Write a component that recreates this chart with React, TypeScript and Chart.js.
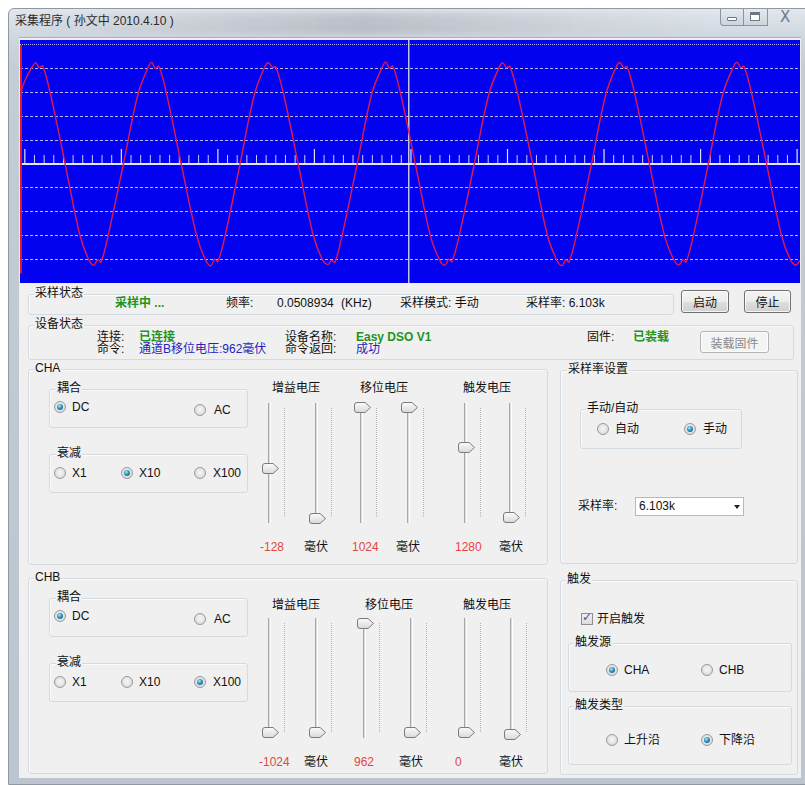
import React, { useEffect, useRef } from "react";
import { Chart, registerables } from "chart.js";

Chart.register(...registerables);

// ---- Oscilloscope trace (x: small divisions, y: vertical divisions) ----
const waveX = [
  -0.5, 0.0,
  0.79, 1.14, 1.5, 1.85, 2.65, 4.17, 5.68, 6.6, 7.15, 7.55, 7.9, 8.66, 10.21, 11.72,
  12.8, 13.16, 13.5, 13.9, 14.67, 16.2, 17.75, 18.7, 19.27, 19.65, 20.0, 20.78, 22.3, 23.8,
  24.9, 25.28, 25.65, 26.0, 26.8, 28.33, 29.85, 30.8, 31.4, 31.78, 32.13, 32.9, 34.43, 35.95,
  37.05, 37.41, 37.78, 38.13, 38.93, 40.46, 41.98, 42.95, 43.52, 43.9, 44.25, 45.03, 46.56, 48.07,
  49.17, 49.53, 49.9, 50.25, 51.05, 52.6, 54.1, 55.07, 55.65, 56.03, 56.38, 57.16, 58.7, 60.2,
  61.3, 61.66, 62.03, 62.38, 63.18, 64.7, 66.23, 67.2, 67.77, 68.15, 68.5, 69.28, 70.8, 72.3,
  73.42, 73.78, 74.15, 74.5, 75.3, 76.84, 78.35, 79.3, 79.9, 80.3,
];
const waveY = [
  2.9, 3.5,
  4.1, 4.25, 4.05, 4.12, 2.95, 0.02, -2.95, -4.0, -4.25, -4.02, -4.12, -2.95, 0.0, 2.93,
  4.08, 4.27, 4.02, 4.1, 2.97, 0.0, -2.93, -4.03, -4.28, -4.0, -4.1, -2.96, 0.02, 2.95,
  4.12, 4.25, 4.06, 4.08, 2.94, -0.02, -2.95, -4.0, -4.22, -4.05, -4.13, -2.94, 0.0, 2.96,
  4.1, 4.28, 4.03, 4.11, 2.95, 0.0, -2.97, -4.02, -4.26, -4.0, -4.1, -2.95, 0.01, 2.94,
  4.09, 4.24, 4.05, 4.1, 2.96, 0.01, -2.94, -4.01, -4.27, -4.03, -4.11, -2.95, 0.0, 2.95,
  4.11, 4.26, 4.04, 4.09, 2.95, 0.0, -2.96, -4.0, -4.24, -4.02, -4.12, -2.96, -0.01, 2.94,
  4.1, 4.27, 4.05, 4.1, 2.95, 0.0, -2.95, -4.02, -4.25, -4.05,
];

// ---- Scale decoration ----
const minorTickX = [
  1, 2, 3, 4, 5, 6, 7, 8, 9, 11, 12, 13, 14, 15, 16, 17, 18, 19,
  21, 22, 23, 24, 25, 26, 27, 28, 29, 31, 32, 33, 34, 35, 36, 37, 38, 39,
  41, 42, 43, 44, 45, 46, 47, 48, 49, 51, 52, 53, 54, 55, 56, 57, 58, 59,
  61, 62, 63, 64, 65, 66, 67, 68, 69, 71, 72, 73, 74, 75, 76, 77, 78, 79,
];
const majorTickX = [0, 10, 20, 30, 40, 50, 60, 70, 80];
const gridY = [-4, -3, -2, -1, 0, 1, 2, 3, 4, 5];
const centerLineX = [39.8];
const triggerEdgeY = [5.0, -4.6];

const FONT = '"Liberation Sans", "Noto Sans CJK SC", Arial, sans-serif';
const GREEN = "#1f941f";
const BLUE = "#2424b8";
const RED = "#e4463e";

function Scope() {
  const ref = useRef<HTMLCanvasElement | null>(null);
  useEffect(() => {
    const canvas = ref.current;
    if (!canvas) return;
    const chart = new Chart(canvas, {
      type: "scatter",
      data: {
        datasets: [
          {
            data: waveX.map((x, i) => ({ x, y: waveY[i] })),
            showLine: true,
            borderColor: "#e2184e",
            borderWidth: 1.4,
            pointRadius: 0,
            tension: 0.35,
            order: 0,
          } as any,
          {
            data: triggerEdgeY.map((y) => ({ x: -0.4, y })),
            showLine: true,
            borderColor: "#e8142a",
            borderWidth: 2,
            pointRadius: 0,
            order: 1,
          } as any,
          {
            data: minorTickX.map((x) => ({ x, y: 0.19 })),
            showLine: false,
            pointStyle: "line",
            rotation: 90,
            pointRadius: 4.5,
            borderColor: "rgba(225,228,255,0.9)",
            borderWidth: 1,
            order: 2,
          } as any,
          {
            data: majorTickX.map((x) => ({ x, y: 0.315 })),
            showLine: false,
            pointStyle: "line",
            rotation: 90,
            pointRadius: 7.5,
            borderColor: "rgba(235,238,255,0.95)",
            borderWidth: 1.2,
            order: 3,
          } as any,
        ],
      },
      options: {
        animation: false,
        responsive: false,
        events: [],
        layout: { padding: 0, autoPadding: false },
        plugins: { legend: { display: false }, tooltip: { enabled: false } },
        scales: {
          x: {
            type: "linear",
            min: -0.5,
            max: 80.3,
            afterBuildTicks: (s: any) => {
              s.ticks = centerLineX.map((v) => ({ value: v }));
            },
            ticks: { display: false },
            grid: { drawTicks: false, color: "rgba(215,215,225,0.9)", lineWidth: 1.5 },
            border: { display: false },
          },
          y: {
            type: "linear",
            min: -5,
            max: 5.21,
            afterBuildTicks: (s: any) => {
              s.ticks = gridY.map((v) => ({ value: v }));
            },
            ticks: { display: false },
            grid: {
              drawTicks: false,
              color: (c: any) =>
                c.tick && c.tick.value === 0 ? "rgba(240,242,255,0.95)" : "rgba(215,220,255,0.85)",
              lineWidth: (c: any) => (c.tick && c.tick.value === 0 ? 2 : 1),
            },
            border: {
              display: false,
              dash: (c: any) =>
                c.tick && c.tick.value === 0 ? [] : c.tick && c.tick.value === 5 ? [1, 1] : [3, 2],
            },
          },
        },
      } as any,
    });
    return () => chart.destroy();
  }, []);
  return (
    <canvas
      ref={ref}
      width={780}
      height={243}
      style={{ position: "absolute", left: 20, top: 40, width: 780, height: 243, background: "#0202f0" }}
    />
  );
}

const T = ({ x, y, c = "#111", b = false, s = 12, children }: any) => (
  <div
    style={{
      position: "absolute",
      left: x,
      top: y - 8,
      height: 16,
      lineHeight: "16px",
      fontSize: s,
      color: c,
      fontWeight: b ? 700 : 400,
      whiteSpace: "nowrap",
    }}
  >
    {children}
  </div>
);

const Group = ({ x, y, w, h, label, lx }: any) => (
  <>
    <div
      style={{
        position: "absolute",
        left: x,
        top: y,
        width: w,
        height: h,
        boxSizing: "border-box",
        border: "1px solid #d3dbe2",
        borderRadius: 3,
        boxShadow: "inset 1px 1px 0 #fbfbfb",
      }}
    />
    {label ? (
      <div
        style={{
          position: "absolute",
          left: (lx ?? x + 8) - 1,
          top: y - 9,
          height: 16,
          lineHeight: "16px",
          padding: "0 1px",
          background: "#f0f0f0",
          fontSize: 12,
          color: "#111",
          whiteSpace: "nowrap",
        }}
      >
        {label}
      </div>
    ) : null}
  </>
);

const Radio = ({ x, y, on }: any) => (
  <div
    style={{
      position: "absolute",
      left: Math.round(x - 6),
      top: Math.round(y - 6),
      width: 12,
      height: 12,
      borderRadius: "50%",
      boxSizing: "border-box",
      border: "1px solid #9a9a9a",
      background: "radial-gradient(circle at 50% 45%, #f6f6f6 0%, #e4e4e4 55%, #cdcdcd 100%)",
    }}
  >
    {on ? (
      <div
        style={{
          position: "absolute",
          left: 2,
          top: 2,
          width: 6,
          height: 6,
          borderRadius: "50%",
          background: "radial-gradient(circle at 40% 35%, #b4eaf8 0%, #2a92bc 45%, #0d4a6e 100%)",
        }}
      />
    ) : null}
  </div>
);

const Slider = ({ x, y1, y2, t }: any) => (
  <>
    <div
      style={{
        position: "absolute",
        left: x - 1,
        top: y1,
        width: 3,
        height: y2 - y1,
        background: "linear-gradient(90deg, #a8a8a8 0 1px, #dcdcdc 1px 2px, #ffffff 2px 3px)",
      }}
    />
    <div
      style={{
        position: "absolute",
        left: x + 15,
        top: y1 + 5,
        width: 1,
        height: y2 - y1 - 10,
        background: "repeating-linear-gradient(#b3b3b3 0 1px, transparent 1px 2px)",
      }}
    />
    <svg style={{ position: "absolute", left: x - 7, top: t - 5 }} width={18} height={11}>
      <defs>
        <linearGradient id="thg" x1="0" y1="0" x2="0" y2="1">
          <stop offset="0" stopColor="#fbfbfb" />
          <stop offset="1" stopColor="#d9d9d9" />
        </linearGradient>
      </defs>
      <path
        d="M3,0.5 H11 L16.5,5.5 L11,10.5 H3 Q0.5,10.5 0.5,8 V3 Q0.5,0.5 3,0.5 Z"
        fill="url(#thg)"
        stroke="#7b7b7b"
        strokeWidth={1}
      />
    </svg>
  </>
);

const Btn = ({ x, y, w, h, label, dis }: any) => (
  <div
    style={{
      position: "absolute",
      left: x,
      top: y,
      width: w,
      height: h,
      boxSizing: "border-box",
      border: `1px solid ${dis ? "#b0b5b8" : "#707070"}`,
      borderRadius: 3,
      background: dis
        ? "#f4f4f4"
        : "linear-gradient(#f4f4f4 0%, #ececec 50%, #dedede 51%, #d0d0d0 100%)",
      boxShadow: "inset 0 0 0 1px rgba(255,255,255,0.75)",
      color: dis ? "#8a8a8a" : "#111",
      fontSize: 12,
      display: "flex",
      alignItems: "center",
      justifyContent: "center",
    }}
  >
    {label}
  </div>
);

function ChannelPanel({ top, name, coupleDC, atten, thumbs, tracksX, y1, y2, hx, hy, vals, vy }: any) {
  const o = top;
  return (
    <>
      <Group x={28} y={o} w={520} h={196} label={name} lx={35} />
      <Group x={49} y={o + 20} w={199} h={39} label="耦合" lx={57} />
      <Radio x={60} y={o + 38} on={coupleDC} />
      <T x={72} y={o + 38}>DC</T>
      <Radio x={200} y={o + 41} on={!coupleDC} />
      <T x={214} y={o + 41}>AC</T>
      <Group x={49} y={o + 85} w={199} h={39} label="衰减" lx={57} />
      <Radio x={60} y={o + 104} on={atten === 0} />
      <T x={72} y={o + 104}>X1</T>
      <Radio x={127} y={o + 104} on={atten === 1} />
      <T x={139} y={o + 104}>X10</T>
      <Radio x={200} y={o + 104} on={atten === 2} />
      <T x={213} y={o + 104}>X100</T>
      <T x={hx[0]} y={hy}>增益电压</T>
      <T x={hx[1]} y={hy}>移位电压</T>
      <T x={hx[2]} y={hy}>触发电压</T>
      {tracksX.map((x: number, i: number) => (
        <Slider key={i} x={x} y1={y1} y2={y2} t={thumbs[i]} />
      ))}
      {vals.map((v: any, i: number) => (
        <T key={"v" + i} x={v[0]} y={vy} c={v[2] ? RED : "#111"}>
          {v[1]}
        </T>
      ))}
    </>
  );
}

export default function App() {
  return (
    <div
      style={{
        position: "absolute",
        left: 0,
        top: 0,
        width: 805,
        height: 785,
        overflow: "hidden",
        background: "#ffffff",
        fontFamily: FONT,
      }}
    >
      {/* window frame */}
      <div
        style={{
          position: "absolute",
          left: 8,
          top: 8,
          width: 805,
          height: 777,
          borderRadius: "6px 6px 0 0",
          border: "1px solid #8f99a4",
          boxSizing: "border-box",
          background: "linear-gradient(180deg, #e2e7ed 0px, #cfd6de 30px, #c4ccd5 60px, #bcc5cf 100%)",
        }}
      />
      <div
        style={{
          position: "absolute",
          left: 14,
          top: 12,
          width: 700,
          height: 22,
          background:
            "linear-gradient(90deg, rgba(255,255,255,0) 0%, rgba(150,150,160,0.25) 30%, rgba(120,120,130,0.3) 50%, rgba(170,170,180,0.2) 80%, rgba(255,255,255,0) 100%)",
          filter: "blur(3px)",
        }}
      />
      <T x={15} y={21} c="#2a2a2a">采集程序 ( 孙文中 2010.4.10 )</T>
      {/* caption buttons */}
      <div
        style={{
          position: "absolute",
          left: 720,
          top: 9,
          width: 48,
          height: 17,
          boxSizing: "border-box",
          border: "1px solid #8a95a2",
          borderTop: "none",
          borderRadius: "0 0 0 4px",
          background: "linear-gradient(#e6eaef, #cdd4dc)",
        }}
      />
      <div style={{ position: "absolute", left: 743, top: 9, width: 1, height: 16, background: "#8a95a2" }} />
      <div style={{ position: "absolute", left: 727, top: 17, width: 10, height: 4, border: "1px solid #6d7885", borderRadius: 1, background: "#fff", boxSizing: "border-box" }} />
      <div style={{ position: "absolute", left: 750, top: 12, width: 10, height: 9, border: "1px solid #6d7885", borderTopWidth: 3, background: "#fff", boxSizing: "border-box" }} />
      <div style={{ position: "absolute", left: 780, top: 8, fontSize: 15, color: "#6d7885", fontFamily: '"DejaVu Sans", sans-serif' }}>X</div>
      {/* client area */}
      <div
        style={{
          position: "absolute",
          left: 19,
          top: 37,
          width: 782,
          height: 740,
          background: "#f0f0f0",
          borderTop: "1px solid #a7b0ba",
        }}
      />
      <Scope />

      {/* 采样状态 */}
      <Group x={28} y={294} w={646} h={21} label="采样状态" lx={35} />
      <T x={115} y={303} c={GREEN} b>采样中 ...</T>
      <T x={226} y={303}>频率:</T>
      <T x={277} y={303}>0.0508934</T>
      <T x={341} y={303}>(KHz)</T>
      <T x={400} y={303}>采样模式: 手动</T>
      <T x={526} y={303}>采样率: 6.103k</T>
      <Btn x={681} y={290} w={48} h={23} label="启动" />
      <Btn x={744} y={290} w={47} h={23} label="停止" />

      {/* 设备状态 */}
      <Group x={28} y={325} w={766} h={35} label="设备状态" lx={35} />
      <T x={97} y={337}>连接:</T>
      <T x={139} y={337} c={GREEN} b>已连接</T>
      <T x={97} y={349}>命令:</T>
      <T x={139} y={349} c={BLUE}>通道B移位电压:962毫伏</T>
      <T x={285} y={337}>设备名称:</T>
      <T x={356} y={337} c={GREEN} b>Easy DSO V1</T>
      <T x={285} y={349}>命令返回:</T>
      <T x={356} y={349} c={BLUE}>成功</T>
      <T x={587} y={337}>固件:</T>
      <T x={633} y={337} c={GREEN} b>已装载</T>
      <Btn x={700} y={331} w={69} h={22} label="装载固件" dis />

      {/* CHA */}
      <ChannelPanel
        top={369}
        name="CHA"
        coupleDC={true}
        atten={1}
        tracksX={[269, 316, 361, 408, 465, 510]}
        thumbs={[468, 518, 407, 407, 447, 517]}
        y1={403}
        y2={523}
        hx={[272, 360, 463]}
        hy={388}
        vals={[[260, "-128", true], [304, "毫伏", false], [352, "1024", true], [396, "毫伏", false], [455, "1280", true], [499, "毫伏", false]]}
        vy={547}
      />

      {/* 采样率设置 */}
      <Group x={560} y={370} w={238} h={194} label="采样率设置" lx={568} />
      <Group x={580} y={409} w={162} h={40} label="手动/自动" lx={587} />
      <Radio x={603} y={429} on={false} />
      <T x={615} y={429}>自动</T>
      <Radio x={690} y={429} on={true} />
      <T x={703} y={429}>手动</T>
      <T x={578} y={506}>采样率:</T>
      <div
        style={{
          position: "absolute",
          left: 635,
          top: 497,
          width: 109,
          height: 19,
          boxSizing: "border-box",
          border: "1px solid #b6bac0",
          background: "#fff",
        }}
      />
      <T x={639} y={506}>6.103k</T>
      <div
        style={{
          position: "absolute",
          left: 734,
          top: 505,
          width: 0,
          height: 0,
          borderLeft: "3.5px solid transparent",
          borderRight: "3.5px solid transparent",
          borderTop: "4px solid #222",
        }}
      />

      {/* CHB */}
      <ChannelPanel
        top={578}
        name="CHB"
        coupleDC={true}
        atten={2}
        tracksX={[269, 316, 364, 411, 465, 511]}
        thumbs={[732, 732, 623, 732, 732, 734]}
        y1={618}
        y2={738}
        hx={[272, 365, 463]}
        hy={605}
        vals={[[259, "-1024", true], [304, "毫伏", false], [354, "962", true], [399, "毫伏", false], [455, "0", true], [499, "毫伏", false]]}
        vy={762}
      />

      {/* 触发 */}
      <Group x={560} y={580} w={238} h={195} label="触发" lx={567} />
      <div
        style={{
          position: "absolute",
          left: 581,
          top: 613,
          width: 12,
          height: 12,
          boxSizing: "border-box",
          border: "1px solid #8f8f8f",
          background: "linear-gradient(#f0f0f0, #dcdcdc)",
        }}
      />
      <div
        style={{
          position: "absolute",
          left: 582,
          top: 610,
          fontSize: 12,
          color: "#3c56a0",
          fontFamily: '"DejaVu Sans", sans-serif',
          fontWeight: 700,
        }}
      >
        ✓
      </div>
      <T x={597} y={619}>开启触发</T>
      <Group x={568} y={643} w={224} h={49} label="触发源" lx={575} />
      <Radio x={612} y={670} on={true} />
      <T x={624} y={670}>CHA</T>
      <Radio x={707} y={670} on={false} />
      <T x={719} y={670}>CHB</T>
      <Group x={568} y={706} w={224} h={59} label="触发类型" lx={575} />
      <Radio x={612} y={740} on={false} />
      <T x={624} y={740}>上升沿</T>
      <Radio x={707} y={740} on={true} />
      <T x={719} y={740}>下降沿</T>
    </div>
  );
}
